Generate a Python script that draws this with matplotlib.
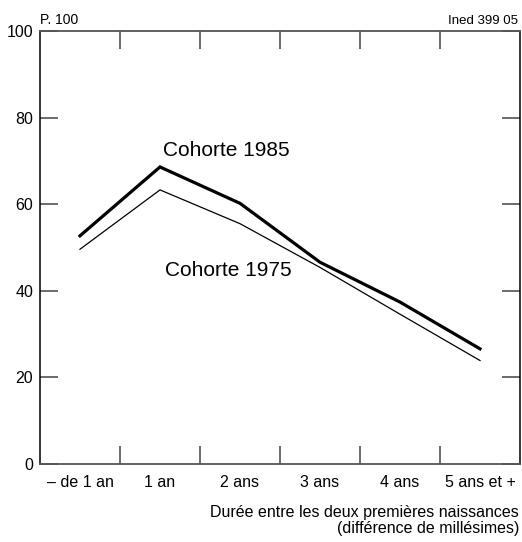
import matplotlib
matplotlib.use('Agg')
import matplotlib.pyplot as plt

plt.rcParams['font.family'] = ['Liberation Sans', 'DejaVu Sans']

# Data
categories = ['– de 1 an', '1 an', '2 ans', '3 ans', '4 ans', '5 ans et +']
cohorte_1985 = [52.7, 68.6, 60.2, 46.6, 37.4, 26.6]
cohorte_1975 = [49.6, 63.3, 55.5, 45.4, 34.6, 23.9]
y_ticks = [0, 20, 40, 60, 80, 100]

W, H = 522, 542
fig = plt.figure(figsize=(W / 100, H / 100), dpi=100)
ax = fig.add_axes([40 / W, (H - 464) / H, 480 / W, 433 / H])

x = list(range(len(categories)))
ax.plot(x, cohorte_1985, color='black', linewidth=2.3, solid_joinstyle='miter')
ax.plot(x, cohorte_1975, color='black', linewidth=0.9)

ax.set_xlim(-0.5, len(categories) - 0.5)
ax.set_ylim(0, 100)

# category labels centred, tick marks on the boundaries
ax.set_xticks(x)
ax.set_xticklabels(categories, fontsize=11.5)
ax.tick_params(axis='x', which='major', length=0, pad=8)
ax.set_xticks([i + 0.5 for i in x[:-1]], minor=True)
ax.tick_params(axis='x', which='minor', direction='in', length=13,
               width=1.1, color='#444444', top=True, bottom=True)

ax.set_yticks(y_ticks)
ax.set_yticklabels([str(v) for v in y_ticks], fontsize=11.5)
ax.tick_params(axis='y', direction='in', length=13, width=1.1,
               color='#444444', left=True, right=True, pad=5)

for side in ['top', 'bottom']:
    ax.spines[side].set_color('#555555')
    ax.spines[side].set_linewidth(1.3)
for side in ['left', 'right']:
    ax.spines[side].set_color('black')
    ax.spines[side].set_linewidth(1.1)

ax.text(1.825, 72.4, 'Cohorte 1985', fontsize=15, ha='center', va='center')
ax.text(1.85, 44.7, 'Cohorte 1975', fontsize=15, ha='center', va='center')

fig.text(40 / W, 1 - 20 / H, 'P. 100', fontsize=10, ha='left', va='center')
fig.text(518 / W, 1 - 21.5 / H, 'Ined 399 05', fontsize=9.5, ha='right', va='center')

fig.text(519 / W, 1 - 512 / H, 'Durée entre les deux premières naissances',
         fontsize=11.5, ha='right', va='center')
fig.text(519 / W, 1 - 529 / H, '(différence de millésimes)',
         fontsize=11.5, ha='right', va='center')

fig.savefig('out.png', dpi=100)
